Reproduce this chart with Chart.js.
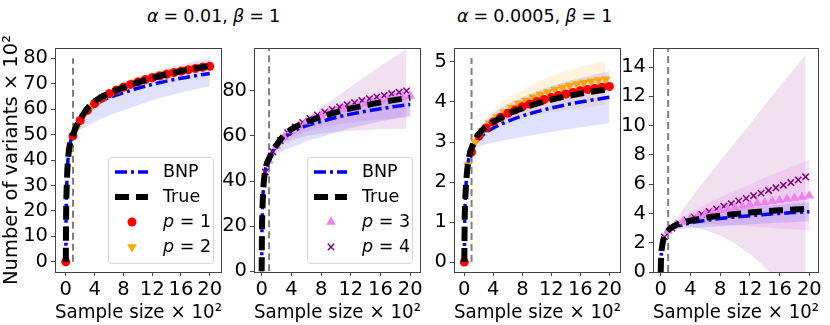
<!DOCTYPE html>
<html>
<head>
<meta charset="utf-8">
<script src="https://cdn.jsdelivr.net/npm/chart.js@4.4.1/dist/chart.umd.min.js"></script>
<style>
  body { margin: 0; background: #fff; width: 830px; height: 325px; position: relative; overflow: hidden; font-family: "DejaVu Sans"; }
  canvas { position: absolute; top: 0; }
  .ttl { position: absolute; top: 5px; font-size: 17.5px; line-height: 22px; white-space: nowrap; word-spacing: -0.5px; color: #000; }
</style>
</head>
<body>
<div class="ttl" style="left:147px"><i>α</i> = 0.01, <i>β</i> = 1</div>
<div class="ttl" style="left:457px"><i>α</i> = 0.0005, <i>β</i> = 1</div>
<canvas id="c1" width="230" height="325" style="left:0px"></canvas>
<canvas id="c2" width="215" height="325" style="left:214px"></canvas>
<canvas id="c3" width="215" height="325" style="left:414px"></canvas>
<canvas id="c4" width="217" height="325" style="left:613px"></canvas>
<script>
// x axis: sample size x 10^2
const xTicks = [0, 4, 8, 12, 16, 20];
const yTicks1 = [0, 10, 20, 30, 40, 50, 60, 70, 80];
const yTicks2 = [0, 20, 40, 60, 80];
const yTicks3 = [0, 1, 2, 3, 4, 5];
const yTicks4 = [0, 2, 4, 6, 8, 10, 12, 14];

// True / BNP curves (number of variants x 10^2)
const xDense = [0, 0.05, 0.1, 0.2, 0.3, 0.5, 0.75, 1, 1.5, 2, 3, 4, 5, 6, 8, 10, 12, 14, 16, 18, 20];
const trueA = [0, 20, 27, 35, 40, 45, 48.3, 50, 53.5, 56, 60.3, 63, 64.8, 66.2, 68.5, 70.5, 72.2, 73.6, 74.9, 76, 77];
const bnpA  = [0, 20, 27, 35, 40, 45, 48.3, 50, 53.3, 55.5, 59, 61.5, 63.2, 64.5, 66.4, 68.2, 69.7, 71, 72.1, 73.1, 74];
const trueB = [0, 1.0, 1.4, 1.8, 2.1, 2.45, 2.7, 2.85, 3.05, 3.2, 3.38, 3.5, 3.6, 3.7, 3.84, 3.96, 4.06, 4.14, 4.21, 4.27, 4.32];
const bnpB  = [0, 1.0, 1.4, 1.8, 2.1, 2.45, 2.7, 2.85, 2.98, 3.08, 3.24, 3.35, 3.44, 3.52, 3.65, 3.76, 3.85, 3.93, 4.0, 4.06, 4.12];

// p = 1..4 estimates
const xInt  = [0, 1, 2, 3, 4, 5, 6, 7, 8, 9, 10, 11, 12, 13, 14, 15, 16, 17, 18, 19, 20];
const xInt1 = [1, 2, 3, 4, 5, 6, 7, 8, 9, 10, 11, 12, 13, 14, 15, 16, 17, 18, 19, 20];
const xHalf = [0.5, 1.5, 2.5, 3.5, 4.5, 5.5, 6.5, 7.5, 8.5, 9.5, 10.5, 11.5, 12.5, 13.5, 14.5, 15.5, 16.5, 17.5, 18.5, 19.5];
const p1A = [0, 49.5, 55.5, 59.5, 62.2, 64.3, 66, 67.4, 68.6, 69.7, 70.6, 71.5, 72.3, 73, 73.7, 74.3, 74.9, 75.4, 75.9, 76.4, 76.8];
const p2A = [43.5, 52.5, 57.5, 60.8, 63.2, 65.2, 66.8, 68.2, 69.4, 70.5, 71.4, 72.3, 73.1, 73.8, 74.5, 75.1, 75.7, 76.2, 76.7, 77.1];
const p3A = [49, 55.5, 59.5, 62.3, 64.5, 66.3, 67.8, 69, 70.1, 71.1, 72, 72.8, 73.6, 74.3, 75, 75.6, 76.2, 76.7, 77.2, 77.7];
const p4A = [44, 53, 58, 61.5, 64, 66, 67.8, 69.3, 70.6, 71.8, 72.9, 73.9, 74.8, 75.7, 76.5, 77.3, 78, 78.7, 79.4, 80];
const p1B = [0, 2.75, 3.15, 3.35, 3.5, 3.62, 3.72, 3.8, 3.88, 3.95, 4.01, 4.06, 4.11, 4.16, 4.2, 4.24, 4.28, 4.31, 4.34, 4.37, 4.39];
const p2B = [2.42, 3.0, 3.28, 3.47, 3.62, 3.75, 3.86, 3.96, 4.04, 4.12, 4.19, 4.25, 4.31, 4.36, 4.41, 4.45, 4.49, 4.52, 4.55, 4.57];
const p3B = [2.8, 3.2, 3.45, 3.65, 3.8, 3.95, 4.08, 4.2, 4.3, 4.4, 4.5, 4.6, 4.68, 4.75, 4.83, 4.9, 4.98, 5.05, 5.13, 5.2];
const p4B = [2.4, 3.0, 3.3, 3.55, 3.75, 3.95, 4.13, 4.31, 4.49, 4.67, 4.85, 5.03, 5.21, 5.39, 5.57, 5.75, 5.93, 6.11, 6.29, 6.5];

// uncertainty bands
const xBand      = [1, 2, 3, 4, 6, 8, 10, 12, 14, 16, 18, 20];
const xBandShort = [1, 2, 3, 4, 6, 8, 10, 12, 14, 16, 18, 19.5];
const bnpBandALo = [50, 52, 53.5, 55, 57.5, 59.5, 61.5, 63.5, 65, 66.5, 67.8, 69];
const bnpBandAUp = [50.5, 57.5, 61, 63.5, 67, 70, 72.5, 74.5, 76, 77.5, 78.8, 80];
const bnpBandBLo = [2.8, 2.88, 2.94, 2.99, 3.06, 3.13, 3.19, 3.25, 3.31, 3.36, 3.42, 3.47];
const bnpBandBUp = [2.9, 3.3, 3.55, 3.72, 3.95, 4.12, 4.27, 4.4, 4.51, 4.6, 4.69, 4.77];
const p2BandBLo  = [2.85, 3.1, 3.25, 3.35, 3.5, 3.6, 3.68, 3.75, 3.8, 3.85, 3.89, 3.93];
const p2BandBUp  = [2.9, 3.35, 3.6, 3.8, 4.1, 4.3, 4.5, 4.65, 4.78, 4.88, 4.97, 5.05];
const p3BandALo  = [49, 54.5, 57.5, 59.5, 62, 63.8, 65, 66, 66.7, 67.3, 67.8, 68.2];
const p3BandAUp  = [50, 57, 61, 64, 68, 71, 73.5, 75.5, 77.3, 78.8, 80.2, 81.5];
const p4BandALo  = [49, 54, 56.5, 58, 60, 61, 61.8, 62.3, 62.7, 63, 63.1, 63.2];
const p4BandAUp  = [50, 57.5, 60.5, 63, 68, 72.5, 77.2, 81.8, 86.5, 91, 95.5, 98.5];
const p3BandBLo  = [2.85, 3.1, 3.25, 3.3, 3.3, 3.25, 3.2, 3.1, 3.05, 2.97, 2.9, 2.83];
const p3BandBUp  = [2.9, 3.35, 3.75, 4.1, 4.6, 5.1, 5.55, 6.0, 6.45, 6.85, 7.25, 7.65];
const p4BandBLo  = [2.85, 3.05, 3.15, 3.1, 2.85, 2.5, 1.95, 1.25, 0.35, -0.7, -1.8, -2.7];
const p4BandBUp  = [2.9, 3.5, 4.3, 5.0, 6.3, 7.6, 8.85, 10.1, 11.4, 12.65, 13.9, 14.85];

// training size marker (vertical dashed line at 100 samples)
const vlineX = [1, 1];

Chart.defaults.font.family = 'DejaVu Sans';
Chart.defaults.font.size = 19.5;
Chart.defaults.color = '#000';

const pts = (xs, ys) => xs.map((x, i) => ({ x: x, y: ys[i] }));

function band(xs, lo, up, color) {
  return [
    { data: pts(xs, lo), borderWidth: 0, pointRadius: 0, fill: false, order: 10 },
    { data: pts(xs, up), borderWidth: 0, pointRadius: 0, fill: '-1', backgroundColor: color, order: 10 }
  ];
}

function lineDs(label, xs, ys, color, width, dash, order, rank) {
  return {
    label: label, data: pts(xs, ys), borderColor: color, borderWidth: width, borderDash: dash,
    borderCapStyle: 'butt', pointRadius: 0, fill: false, cubicInterpolationMode: 'monotone',
    order: order, legendRank: rank
  };
}

function markerDs(label, xs, ys, style, color, radius, rotation, rank) {
  const cross = style === 'crossRot';
  return {
    label: label, data: pts(xs, ys), showLine: false, pointStyle: style,
    pointRadius: radius, pointRotation: rotation,
    pointBackgroundColor: color, pointBorderColor: color,
    pointBorderWidth: cross ? 1.5 : 0, order: 2, legendRank: rank
  };
}

function vline(top) {
  return { data: pts(vlineX, [0, top]), borderColor: '#808080', borderWidth: 2, borderDash: [7, 4], pointRadius: 0, fill: false, order: 6 };
}

const frame = {
  id: 'frame',
  afterDatasetsDraw(chart) {
    const a = chart.chartArea, ctx = chart.ctx;
    ctx.save();
    ctx.strokeStyle = '#444';
    ctx.lineWidth = 1;
    ctx.strokeRect(Math.round(a.left) + 0.5, Math.round(a.top) + 0.5, Math.round(a.width) - 1, Math.round(a.height));
    ctx.restore();
  }
};

const boxLegend = {
  id: 'boxLegend',
  afterDraw(chart, args, opts) {
    if (!opts.show) return;
    const ctx = chart.ctx, a = chart.chartArea;
    const w = 105, h = 106;
    const x0 = Math.round(a.right - 9 - w), y0 = Math.round(a.bottom - 9 - h);
    ctx.save();
    ctx.fillStyle = 'rgba(255,255,255,0.8)';
    ctx.strokeStyle = '#d4d4d4';
    ctx.lineWidth = 1;
    ctx.beginPath();
    ctx.roundRect(x0 + 0.5, y0 + 0.5, w, h, 3);
    ctx.fill();
    ctx.stroke();
    const items = chart.data.datasets.filter(d => d.legendRank).sort((p, q) => p.legendRank - q.legendRank);
    items.forEach((d, i) => {
      const cy = y0 + 15 + i * 25;
      if (d.showLine === false) {
        ctx.fillStyle = d.pointBackgroundColor;
        ctx.strokeStyle = d.pointBorderColor;
        ctx.lineWidth = d.pointBorderWidth || 1;
        Chart.helpers.drawPoint(ctx, { pointStyle: d.pointStyle, rotation: d.pointRotation || 0, radius: d.pointRadius, borderWidth: d.pointBorderWidth }, x0 + 24, cy);
      } else {
        ctx.strokeStyle = d.borderColor;
        ctx.lineWidth = d.borderWidth;
        ctx.setLineDash(d.borderDash || []);
        ctx.lineCap = 'butt';
        ctx.beginPath();
        ctx.moveTo(x0 + 7, cy);
        ctx.lineTo(x0 + 40, cy);
        ctx.stroke();
        ctx.setLineDash([]);
      }
      ctx.fillStyle = '#000';
      ctx.textBaseline = 'middle';
      ctx.textAlign = 'left';
      let tx = x0 + 55;
      let txt = d.label;
      if (txt.startsWith('p ')) {
        ctx.font = 'italic 17.5px "DejaVu Sans"';
        ctx.fillText('p', tx, cy);
        tx += ctx.measureText('p').width;
        txt = txt.slice(1);
      }
      ctx.font = '17.5px "DejaVu Sans"';
      ctx.fillText(txt, tx, cy);
    });
    ctx.restore();
  }
};

function makeChart(id, datasets, xr, yr, yTicks, yWidth, padRight, yTitle, showLegend) {
  new Chart(document.getElementById(id), {
    type: 'line',
    data: { datasets: datasets },
    plugins: [frame, boxLegend],
    options: {
      responsive: false,
      animation: false,
      devicePixelRatio: 1,
      events: [],
      layout: { padding: { top: 48, right: padRight, left: 0, bottom: 0 } },
      plugins: { legend: { display: false }, tooltip: { enabled: false }, boxLegend: { show: showLegend } },
      scales: {
        x: {
          type: 'linear', min: xr[0], max: xr[1],
          afterBuildTicks: s => { s.ticks = xTicks.map(v => ({ value: v })); },
          afterFit: s => { s.height = 53; },
          ticks: { padding: 2, maxRotation: 0, autoSkip: false, callback: v => String(v) },
          grid: { drawOnChartArea: false, drawTicks: true, tickLength: 4, color: '#444' },
          border: { display: false },
          title: { display: true, text: 'Sample size × 10²', padding: { top: 0, bottom: 0 } }
        },
        y: {
          type: 'linear', min: yr[0], max: yr[1],
          afterBuildTicks: s => { s.ticks = yTicks.map(v => ({ value: v })); },
          afterFit: s => { s.width = yWidth; },
          ticks: { padding: 3, autoSkip: false, callback: v => String(v) },
          grid: { drawOnChartArea: false, drawTicks: true, tickLength: 4, color: '#444' },
          border: { display: false },
          title: { display: yTitle, text: 'Number of variants × 10²', padding: { top: 0, bottom: 2 } }
        }
      }
    }
  });
}

const blueBand = 'rgba(0,0,255,0.12)';
const orangeBand = 'rgba(255,165,0,0.13)';
const violetBand = 'rgba(238,130,238,0.22)';
const purpleBand = 'rgba(128,0,128,0.12)';
const bnpDash = [12, 4, 3, 4];
const trueDash = [14, 7];

makeChart('c1', [
  lineDs('True', xDense, trueA, '#000', 6, trueDash, 1, 2),
  markerDs('p = 1', xInt, p1A, 'circle', '#ff0000', 4.5, 0, 3),
  markerDs('p = 2', xHalf, p2A, 'triangle', '#ffa500', 5.5, 180, 4),
  lineDs('BNP', xDense, bnpA, '#0000ff', 3.5, bnpDash, 3, 1),
  vline(80),
  ...band(xBand, bnpBandALo, bnpBandAUp, blueBand)
], [-1.5, 21.7], [-4, 84], yTicks1, 55, 8, true, true);

makeChart('c2', [
  lineDs('True', xDense, trueA, '#000', 6, trueDash, 1, 2),
  markerDs('p = 3', xInt1, p3A, 'triangle', '#ee82ee', 5.5, 0, 3),
  markerDs('p = 4', xHalf, p4A, 'crossRot', '#800080', 4.5, 0, 4),
  lineDs('BNP', xDense, bnpA, '#0000ff', 3.5, bnpDash, 3, 1),
  vline(99),
  ...band(xBand, bnpBandALo, bnpBandAUp, blueBand),
  ...band(xBand, p3BandALo, p3BandAUp, violetBand),
  ...band(xBandShort, p4BandALo, p4BandAUp, purpleBand)
], [-1.03, 21.45], [-0.3, 99], yTicks2, 40, 8, false, true);

makeChart('c3', [
  lineDs('True', xDense, trueB, '#000', 6, trueDash, 1, 2),
  markerDs('p = 1', xInt, p1B, 'circle', '#ff0000', 4.5, 0, 3),
  markerDs('p = 2', xHalf, p2B, 'triangle', '#ffa500', 5.5, 180, 4),
  lineDs('BNP', xDense, bnpB, '#0000ff', 3.5, bnpDash, 3, 1),
  vline(5.1),
  ...band(xBand, bnpBandBLo, bnpBandBUp, blueBand),
  ...band(xBandShort, p2BandBLo, p2BandBUp, orangeBand)
], [-1.42, 21.6], [-0.25, 5.35], yTicks3, 40, 8, false, false);

makeChart('c4', [
  lineDs('True', xDense, trueB, '#000', 6, trueDash, 1, 2),
  markerDs('p = 3', xInt1, p3B, 'triangle', '#ee82ee', 5.5, 0, 3),
  markerDs('p = 4', xHalf, p4B, 'crossRot', '#800080', 4.5, 0, 4),
  lineDs('BNP', xDense, bnpB, '#0000ff', 3.5, bnpDash, 3, 1),
  vline(15.3),
  ...band(xBand, bnpBandBLo, bnpBandBUp, blueBand),
  ...band(xBand, p3BandBLo, p3BandBUp, violetBand),
  ...band(xBandShort, p4BandBLo, p4BandBUp, purpleBand)
], [-1.04, 21.3], [0, 15.3], yTicks4, 40, 11, false, false);
</script>
</body>
</html>
